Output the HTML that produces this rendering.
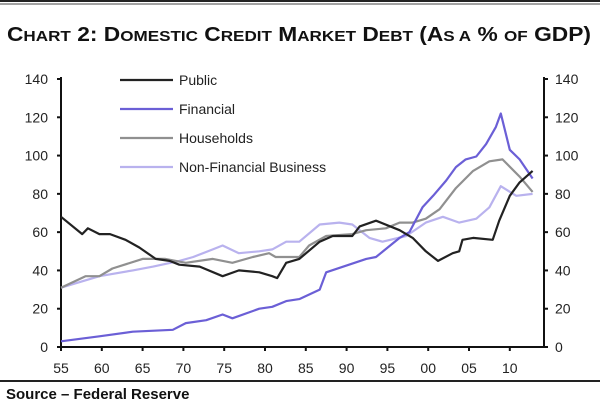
<!DOCTYPE html>
<html><head><meta charset="utf-8"><style>
html,body{margin:0;padding:0;background:#fff;}
svg{display:block;font-family:"Liberation Sans",sans-serif;}
</style></head><body>
<svg id="chart" width="600" height="405" viewBox="0 0 600 405" xmlns="http://www.w3.org/2000/svg">
<rect x="0" y="0" width="600" height="2" fill="#222"/>
<rect x="0" y="3.5" width="600" height="1" fill="#444"/>
<text x="7" y="41" font-size="20" font-weight="bold" fill="#111" textLength="584" lengthAdjust="spacingAndGlyphs">C<tspan font-size="15">HART</tspan> 2: D<tspan font-size="15">OMESTIC</tspan> C<tspan font-size="15">REDIT</tspan> M<tspan font-size="15">ARKET</tspan> D<tspan font-size="15">EBT</tspan> (A<tspan font-size="15">S A</tspan> % <tspan font-size="15">OF</tspan> GDP)</text>
<g id="axes"></g>
<g id="series"></g>
<g id="legend"></g>
<rect x="0" y="380" width="600" height="2" fill="#222"/>
<text x="6" y="399" font-size="15" font-weight="bold" fill="#111">Source – Federal Reserve</text>
</svg>
<script>
const yTicks = [0,20,40,60,80,100,120,140];
const xTickYears = [1955,1960,1965,1970,1975,1980,1985,1990,1995,2000,2005,2010];
const xTickLabels = ["55","60","65","70","75","80","85","90","95","00","05","10"];
const seriesNames = ["Public","Financial","Households","Non-Financial Business"];
const publicYears = [1955,1957.6,1958.3,1959.7,1961,1962.9,1964.6,1966.6,1968.3,1969.5,1972,1974.8,1976.8,1979.3,1980.9,1981.5,1982.6,1984.2,1986.7,1988.3,1990.7,1991.6,1993.6,1996.5,1998.1,1999.7,2001.2,2003,2003.8,2004.2,2005.5,2007.9,2008.7,2010,2011.2,2012.8];
const publicVals = [68,59,62,59,59,56,52,46,45,43,42,37,40,39,37,36,44,46,55,58,58,63,66,61,57,50,45,49,50,56,57,56,66,79,86,92];
const financialYears = [1955,1959.7,1963.8,1968.7,1970.3,1972.8,1974.8,1976,1979.3,1980.9,1982.6,1984.2,1986.7,1987.5,1990.3,1992.4,1993.6,1996.5,1997.7,1999.3,2000.6,2002.2,2003.4,2004.6,2005.9,2007.1,2008.3,2008.9,2010,2011.2,2012.8];
const financialVals = [3,5.6,8,9,12.5,14,17,15,20,21,24,25,30,39,43,46,47,57,60,73,79,87,94,98,99.5,106,115,122,103,98,88];
const householdYears = [1955,1958,1959.7,1961.3,1965,1967.8,1970.3,1973.6,1976,1978.5,1980.5,1981.3,1984.2,1985.4,1987.5,1990.7,1992.4,1994.8,1996.5,1998.1,1999.7,2001.4,2003.4,2005.5,2007.5,2009.1,2011.2,2012.8];
const householdVals = [31,37,37,41,46,46,44,46,44,47,49,47,47,53,58,59,61,62,65,65,67,72,83,92,97,98,89,81];
const nfbYears = [1955,1959.7,1963.8,1966.3,1969.5,1971.2,1973.6,1974.8,1976.8,1979.3,1980.9,1982.6,1984.2,1986.7,1989.1,1990.7,1992.8,1994.4,1997.3,1999.7,2001.8,2003.8,2005.9,2007.5,2008.9,2010.8,2012.8];
const nfbVals = [31,37,40,42,45,47,51,53,49,50,51,55,55,64,65,64,57,55,58,65,68,65,67,73,84,79,80];

const X0=61, X1=544, Y0=347, Y1=79;
const xScale = yr => 61 + (yr-1955)*8.16;
const yScale = v => Y0 - (v/140)*(Y0-Y1);
const NS="http://www.w3.org/2000/svg";
function mk(tag, attrs, parent){const e=document.createElementNS(NS,tag);for(const k in attrs)e.setAttribute(k,attrs[k]);parent.appendChild(e);return e;}
const axes=document.getElementById('axes');
let el;
el=mk('line',{x1:X0,y1:Y1-2,x2:X0,y2:Y0,stroke:'#111','stroke-width':2},axes);


el=mk('line',{x1:X1,y1:Y1-2,x2:X1,y2:Y0,stroke:'#111','stroke-width':2},axes);


el=mk('line',{x1:X0,y1:Y0,x2:X1,y2:Y0,stroke:'#111','stroke-width':2},axes);


yTicks.forEach(v=>{
  const y=yScale(v);
  el=mk('line',{x1:X0-4,y1:y,x2:X0,y2:y,stroke:'#111','stroke-width':2},axes);
  
  
  el=mk('line',{x1:X1,y1:y,x2:X1+4,y2:y,stroke:'#111','stroke-width':2},axes);
  
  
  el=mk('text',{x:48,y:y+5,'text-anchor':'end','font-size':14,fill:'#222'},axes);
  el.textContent=v;
  
  
  el=mk('text',{x:555,y:y+5,'font-size':14,fill:'#222'},axes);
  el.textContent=v;
  
  
});
xTickYears.forEach((yr,i)=>{
  const x=xScale(yr);
  el=mk('line',{x1:x,y1:Y0,x2:x,y2:Y0+4,stroke:'#111','stroke-width':2},axes);
  
  
  el=mk('text',{x:x,y:373,'text-anchor':'middle','font-size':14,fill:'#222'},axes);
  el.textContent=xTickLabels[i];
  
  
});
const colors=['#222222','#6b5fd6','#909090','#b9b2ee'];
const dataSets=[[publicYears,publicVals],[financialYears,financialVals],[householdYears,householdVals],[nfbYears,nfbVals]];
const seriesG=document.getElementById('series');
const order=[3,2,1,0];
order.forEach(i=>{
  const [xs,vs]=dataSets[i];
  const pts=xs.map((yr,j)=>xScale(yr).toFixed(1)+','+yScale(vs[j]).toFixed(1)).join(' ');
  el=mk('polyline',{points:pts,fill:'none',stroke:colors[i],'stroke-width':2.2,'stroke-linejoin':'round'},seriesG);
  
  
});
const legend=document.getElementById('legend');
const legendY=[80,109,138,167];
seriesNames.forEach((n,i)=>{
  el=mk('line',{x1:120,y1:legendY[i],x2:173,y2:legendY[i],stroke:colors[i],'stroke-width':2.2},legend);
  
  
  el=mk('text',{x:179,y:legendY[i]+5,'font-size':14,fill:'#222'},legend);
  el.textContent=n;
  
  
});
</script>
</body></html>
